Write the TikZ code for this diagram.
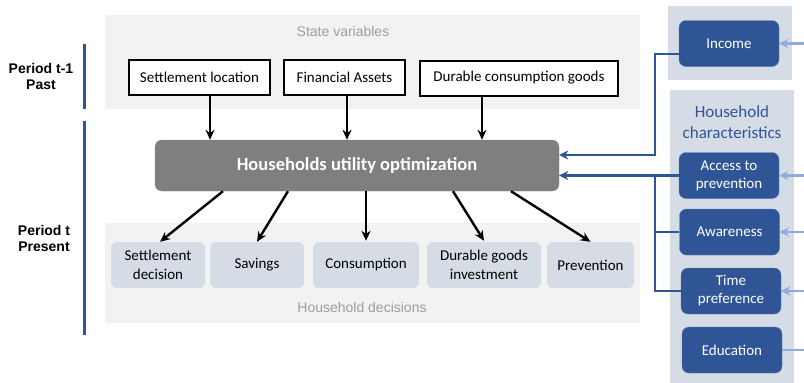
\documentclass[tikz,border=0pt]{standalone}
\usepackage{fontspec}
\setmainfont{Carlito}
\newfontfamily\arialfont{Liberation Sans}
\usetikzlibrary{arrows.meta}
\definecolor{panelgray}{HTML}{F2F2F2}
\definecolor{decfill}{HTML}{D6DCE5}
\definecolor{darkblue}{HTML}{2F5597}
\definecolor{lightblue}{HTML}{8FAADC}
\definecolor{optgray}{HTML}{7F7F7F}
\begin{document}
\begin{tikzpicture}[x=1pt, y=-1pt,
    statebox/.style={draw=black, line width=2pt, fill=white, minimum height=35pt,
        inner sep=0pt, font=\fontsize{15}{17}\selectfont},
    decision/.style={fill=decfill, rounded corners=6pt, minimum height=46pt, inner sep=0pt,
        align=center, font=\fontsize{15}{18.5}\selectfont},
    factor/.style={fill=darkblue, draw=darkblue!80!white, rounded corners=7pt, minimum width=100pt,
        minimum height=46pt, inner sep=0pt, align=center, text=white,
        font=\fontsize{15}{18}\selectfont},
    arr/.style={line width=2.4pt, -{Stealth[length=10pt, width=9pt]}},
    link/.style={darkblue, line width=2.2pt},
    input/.style={lightblue, line width=2.2pt}]
    \useasboundingbox (0,0) rectangle (804,383);

    % panels
    \fill[panelgray] (105,15) rectangle (640,109);
    \fill[panelgray] (105,223) rectangle (640,323);
    \fill[decfill] (668,6) rectangle (792,80);
    \fill[decfill] (670,90) rectangle (794,383);
    \node[text=black!38, font=\arialfont\fontsize{14}{16}\selectfont] (statelbl) at (343,31) {State variables};
    \node[text=black!38, font=\arialfont\fontsize{14}{16}\selectfont] (declbl) at (362,307) {Household decisions};
    \node[text=darkblue, align=center, font=\fontsize{17}{21}\selectfont] (charlbl) at (732,122) {Household\\characteristics};

    % periods
    \node[align=center, font=\arialfont\bfseries\fontsize{14}{16}\selectfont] (past) at (41,76) {Period t-1\\Past};
    \node[align=center, font=\arialfont\bfseries\fontsize{14}{16}\selectfont] (present) at (44,238.5) {Period t\\Present};
    \draw[darkblue, line width=3pt] (84,44) -- (84,109);
    \draw[darkblue, line width=3pt] (84,121) -- (84,335);

    % state variables
    \node[statebox, minimum width=141pt] (sloc) at (199.5,77.5) {Settlement location};
    \node[statebox, minimum width=121pt] (fin) at (344.5,77.5) {Financial Assets};
    \node[statebox, minimum width=198pt] (dur) at (519,78) {Durable consumption goods};

    % optimization
    \node[fill=optgray, draw=black!45, rounded corners=7pt, minimum width=404pt, minimum height=51pt,
        text=white, font=\bfseries\fontsize{18.5}{20}\selectfont] (opt) at (357,165.5) {Households utility optimization};

    % decisions
    \node[decision, minimum width=94pt] (dset) at (158,265) {Settlement\\decision};
    \node[decision, minimum width=94pt] (dsav) at (257,265) {Savings};
    \node[decision, minimum width=106pt] (dcons) at (366,265) {Consumption};
    \node[decision, minimum width=114pt] (ddur) at (484,265) {Durable goods\\investment};
    \node[decision, minimum width=87pt] (dprev) at (590.5,265) {Prevention};

    % characteristics
    \node[factor] (inc) at (729,43.5) {Income};
    \node[factor] (acc) at (729,175.5) {Access to\\prevention};
    \node[factor] (awa) at (729.5,232) {Awareness};
    \node[factor] (tim) at (731,291) {Time\\preference};
    \node[factor] (edu) at (732,350) {Education};

    % state variables into the optimization
    \draw[arr] ([xshift=10.5pt]sloc.south) -- ([xshift=10.5pt]sloc.south |- opt.north);
    \draw[arr] ([xshift=2.5pt]fin.south) -- ([xshift=2.5pt]fin.south |- opt.north);
    \draw[arr] ([xshift=-37pt]dur.south) -- ([xshift=-37pt]dur.south |- opt.north);

    % optimization into the decisions
    \draw[arr] ([xshift=-134pt]opt.south) -- ([xshift=2pt]dset.north);
    \draw[arr] ([xshift=-69pt]opt.south) -- (dsav.north);
    \draw[arr] ([xshift=9pt]opt.south) -- ([yshift=1pt]dcons.north);
    \draw[arr] ([xshift=96pt]opt.south) -- ([yshift=1pt]ddur.north);
    \draw[arr] ([xshift=154pt]opt.south) -- (dprev.north);

    % characteristics into the optimization
    \coordinate (t1) at (655,155);
    \coordinate (t2) at (655,175.5);
    \draw[link, -{Stealth[length=9pt, width=9pt, open]}] ([yshift=-10.5pt]inc.west) -| (t1) -- (t1 -| opt.east);
    \draw[link, -{Stealth[length=9pt, width=9pt, open]}] (acc.west) -- (acc.west -| opt.east);
    \draw[link] (awa.west) -| (t2);
    \draw[link] (tim.west) -| (t2);

    % outside inputs
    \coordinate (rim) at (804,0);
    \foreach \n in {inc, acc, awa, tim}
        \draw[input, -{Stealth[length=9pt, width=9pt, open]}] (\n.east -| rim) -- (\n.east);
    \draw[input] (edu.east -| rim) -- (edu.east);
\end{tikzpicture}
\end{document}
